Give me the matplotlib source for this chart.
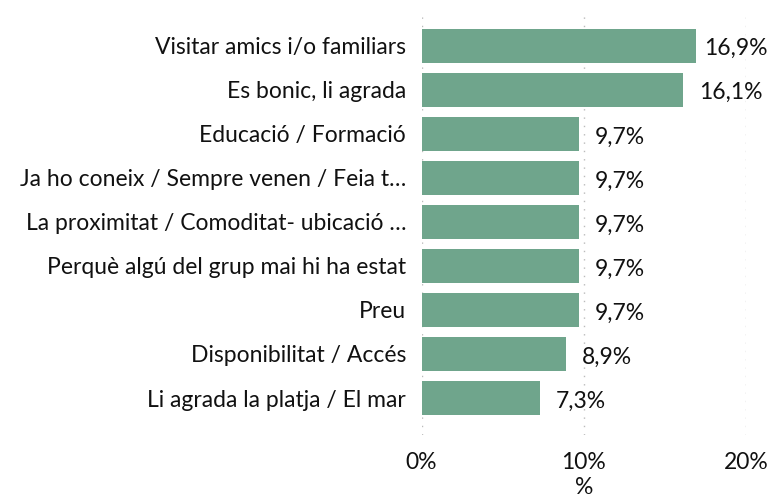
import matplotlib
matplotlib.use('Agg')
import matplotlib.pyplot as plt

plt.rcParams['font.family'] = ['Lato', 'DejaVu Sans']

categories = ['Visitar amics i/o familiars', 'Es bonic, li agrada', 'Educació / Formació',
              'Ja ho coneix / Sempre venen / Feia t…', 'La proximitat / Comoditat- ubicació …',
              'Perquè algú del grup mai hi ha estat', 'Preu', 'Disponibilitat / Accés',
              'Li agrada la platja / El mar']
values = [16.9, 16.1, 9.7, 9.7, 9.7, 9.7, 9.7, 8.9, 7.3]
xticks = [0, 10, 20]
xtick_labels = ['0%', '10%', '20%']

fig = plt.figure(figsize=(7.74, 5.0), dpi=100)
ax = fig.add_axes([0.5446, 0.13, 0.4194, 0.84])

pos = list(range(len(categories)))
ax.barh(pos, values, height=0.77, color='#6fa58c')
labels = []
for p, v in zip(pos, values):
    t = ax.annotate(f'{v:.1f}%'.replace('.', ','), (v, p), xytext=(16, -3),
                    textcoords='offset pixels', va='center', ha='left',
                    fontsize=16.5, color='#111111')
    labels.append(t)

ax.set_yticks(pos)
ax.set_yticklabels(categories, fontsize=16.5, color='#111111')
ax.set_ylim(8.84, -0.7)
ax.set_xlim(0, 20)
ax.set_xticks(xticks)
ax.set_xticklabels(xtick_labels, fontsize=16.5, color='#111111')
ax.set_xlabel('%', fontsize=16.5, color='#111111', labelpad=3)

# dotted vertical gridlines only
ax.grid(axis='x', linestyle=(0, (1, 5)), color='#bbbbbb', linewidth=1)
ax.set_axisbelow(True)
for s in ax.spines.values():
    s.set_visible(False)
ax.tick_params(length=0, pad=11)
ax.tick_params(axis='x', pad=12)

# pull labels that would run past the right edge back inside
fig.canvas.draw()
r = fig.canvas.get_renderer()
for t in labels:
    over = t.get_window_extent(r).x1 - (fig.bbox.width - 6)
    if over > 0:
        x, y = t.xyann
        t.xyann = (x - over, y)

fig.savefig('out.png', dpi=100)
